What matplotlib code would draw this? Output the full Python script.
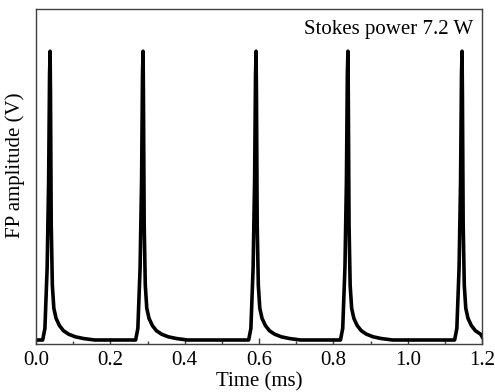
import numpy as np
import matplotlib
matplotlib.use("Agg")
import matplotlib.pyplot as plt
from matplotlib.ticker import MultipleLocator

plt.rcParams['font.family'] = ['Liberation Serif', 'DejaVu Serif']

# Peak positions (ms) and peak heights (relative, V)
peak_times = [0.038, 0.288, 0.592, 0.839, 1.146]
peak_heights = [0.874, 0.874, 0.874, 0.874, 0.874]
baseline = 0.012

# Pulse profile: offset from peak (ms) and fraction of peak height
profile_offsets = [-0.020, -0.014, -0.008, -0.004, -0.0015, 0.0, 0.001, 0.003, 0.006,
                   0.010, 0.016, 0.025, 0.036, 0.050, 0.068, 0.090, 0.120]
profile_values = [0.0, 0.04, 0.25, 0.55, 0.92, 1.0, 0.85, 0.40, 0.19,
                  0.11, 0.075, 0.050, 0.032, 0.020, 0.011, 0.005, 0.0]

x_start, x_end = 0.0, 1.2

t = [x_start]
v = [baseline]
for pt, ph in zip(peak_times, peak_heights):
    for off, frac in zip(profile_offsets, profile_values):
        tt = pt + off
        if x_start <= tt <= x_end:
            t.append(tt)
            v.append(baseline + frac * (ph - baseline))
        elif tt > x_end:
            t.append(x_end)
            v.append(baseline + frac * (ph - baseline))
            break
if t[-1] < x_end:
    t.append(x_end)
    v.append(baseline)

fig = plt.figure(figsize=(4.95, 3.92), dpi=100)
ax = fig.add_axes([0.0727, 0.1224, 0.9013, 0.8546])
ax.plot(t, v, color='black', lw=2.6, solid_joinstyle='round')

ax.set_xlim(0, 1.2)
ax.set_ylim(0, 1.0)
ticks = [0.0, 0.2, 0.4, 0.6, 0.8, 1.0, 1.2]
ax.set_xticks(ticks)
ax.set_xticklabels([f"{x:.1f}" for x in ticks], fontsize=15)
ax.xaxis.set_minor_locator(MultipleLocator(0.1))
ax.set_yticks([])
ax.tick_params(axis='x', which='major', direction='in', length=4, width=1, color='#404040', pad=5)
ax.tick_params(axis='x', which='minor', direction='in', length=2.5, width=1, color='#404040')
for s in ax.spines.values():
    s.set_color('#404040')
    s.set_linewidth(1)

ax.set_xlabel("Time (ms)", fontsize=15)
ax.xaxis.set_label_coords(0.5, -0.085)
ax.set_ylabel("FP amplitude (V)", fontsize=15)
ax.yaxis.set_label_coords(-0.024, 0.533)
ax.text(0.979, 0.967, "Stokes power 7.2 W", transform=ax.transAxes,
        ha='right', va='top', fontsize=15)

fig.savefig("out.png", dpi=100)
